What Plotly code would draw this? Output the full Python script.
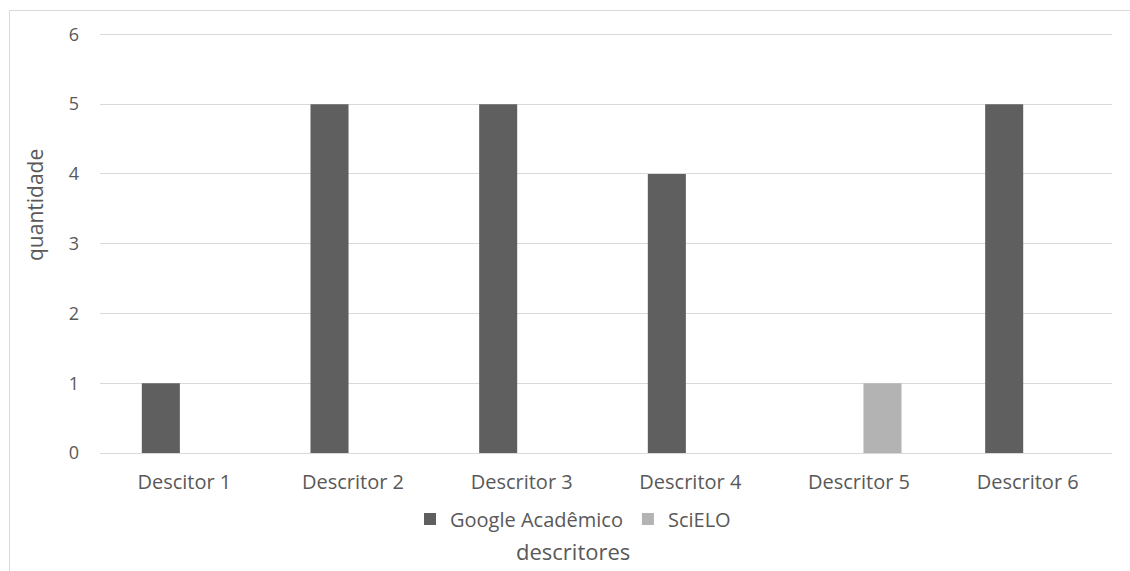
import plotly.graph_objects as go

categories = ["Descitor 1", "Descritor 2", "Descritor 3", "Descritor 4", "Descritor 5", "Descritor 6"]
google = [1, 5, 5, 4, 0, 5]
scielo = [0, 0, 0, 0, 1, 0]
yticks = [0, 1, 2, 3, 4, 5, 6]

FONT = "Open Sans"
TXT = "#595959"
GRID = "#d9d9d9"

fig = go.Figure()
fig.add_trace(go.Bar(name="Google Acadêmico", x=categories, y=google,
                     marker=dict(color="#5f5f5f", line=dict(width=0))))
fig.add_trace(go.Bar(name="SciELO", x=categories, y=scielo,
                     marker=dict(color="#b3b3b3", line=dict(width=0))))

W, H = 1130, 571
L, R, T, B = 100, 18, 33, 118
pw, ph = W - L - R, H - T - B

def px_x(x):
    return (x - L) / pw

def px_y(y):
    return (H - B - y) / ph

fig.update_layout(
    width=W, height=H,
    margin=dict(l=L, r=R, t=T, b=B),
    paper_bgcolor="white", plot_bgcolor="white",
    barmode="group", bargap=0.443, bargroupgap=0.19,
    font=dict(family=FONT, color=TXT, size=18),
    showlegend=True,
    legend=dict(orientation="h", x=px_x(410), xanchor="left", y=px_y(519), yanchor="middle",
                font=dict(size=20, color=TXT), traceorder="normal",
                itemclick=False, tracegroupgap=0),
    xaxis=dict(showgrid=False, showline=False, zeroline=False, ticks="",
               tickfont=dict(size=20, color=TXT), ticklabelstandoff=15),
    yaxis=dict(range=[0, 6.02], tickvals=yticks, showgrid=True, gridcolor=GRID, gridwidth=1,
               zeroline=True, zerolinecolor=GRID, zerolinewidth=1, showline=False, ticks="",
               tickfont=dict(size=18, color=TXT), ticklabelstandoff=20),
    annotations=[
        dict(text="descritores", xref="paper", yref="paper", x=px_x(573), y=px_y(551),
             xanchor="center", yanchor="middle", showarrow=False,
             font=dict(size=22, color=TXT, family=FONT)),
        dict(text="quantidade", xref="paper", yref="paper", x=px_x(35), y=px_y(205),
             xanchor="center", yanchor="middle", showarrow=False, textangle=-90,
             font=dict(size=21, color=TXT, family=FONT)),
    ],
    shapes=[
        dict(type="rect", xref="paper", yref="paper",
             x0=px_x(9.5), x1=px_x(1200), y0=px_y(10.5), y1=px_y(700),
             line=dict(color=GRID, width=1), fillcolor="rgba(0,0,0,0)", layer="below"),
    ],
)

fig.write_html("out.html")
